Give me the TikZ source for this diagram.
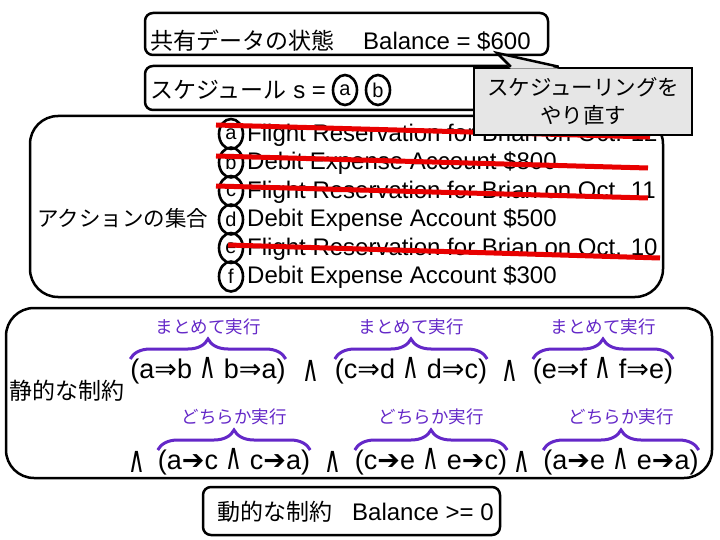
\documentclass[tikz,border=0pt]{standalone}
\usepackage{fontspec}
\setmainfont{Liberation Sans}
\newfontfamily\jp{Noto Sans CJK JP}
\newfontfamily\sym{DejaVu Sans}
\usetikzlibrary{decorations.pathreplacing,shapes.geometric}
\definecolor{cgray}{RGB}{230,230,230}
\definecolor{pur}{RGB}{100,40,200}
\definecolor{strike}{RGB}{232,0,0}
\newcommand\myimp{{\sym ⇒}}
\newcommand\myand{{\sym\scalebox{0.85}[1.35]{∧}}}
\newcommand\myarr{{\sym ➔}}
\begin{document}
\begin{tikzpicture}[x=1pt,y=-1pt,
  box/.style={draw=black,line width=2.5pt,rounded corners=8pt,inner sep=0pt},
  bigbox/.style={draw=black,line width=2.5pt,rounded corners=28pt,inner sep=0pt},
  txt/.style={inner sep=0pt,font=\fontsize{24}{27}\selectfont},
  circ/.style={draw=black,line width=2.6pt,ellipse,inner sep=0pt,minimum width=24pt,minimum height=30pt,font=\fontsize{20}{21}\selectfont},
  item/.style={inner sep=0pt,anchor=west,font=\fontsize{24}{26}\selectfont},
  grp/.style={inner sep=0pt,font=\fontsize{27}{29}\selectfont},
  lab/.style={inner sep=0pt,text=pur,font=\jp\fontsize{17.5}{19}\selectfont},
  brc/.style={draw=pur,line width=3pt,decorate,decoration={brace,amplitude=20pt}},
  redline/.style={draw=strike,line width=5pt}
]
\useasboundingbox[fill=white] (0,0) rectangle (720,540);
% --- state box
\node[box,minimum width=403pt,minimum height=42pt] (state) at (346.5,34) {};
\node[txt,anchor=west] (statetxt) at (150,41) {{\jp\fontsize{23}{26}\selectfont 共有データの状態}\hspace{29pt}Balance = \$600};
% --- schedule box
\node[box,minimum width=395pt,minimum height=44pt] (sched) at (342.5,88) {};
\node[txt,anchor=west] (schedtxt) at (150,90) {{\jp\fontsize{23}{26}\selectfont スケジュール}\ s =};
\node[circ] (sa) at (345,90) {a};
\node[circ] (sb) at (378,90) {b};
% --- action box
\node[bigbox,minimum width=633pt,minimum height=181pt] (act) at (346.5,206.5) {};
\node[inner sep=0pt,anchor=west,font=\jp\fontsize{21.5}{24}\selectfont] (actlab) at (37,218) {アクションの集合};
\node[circ] (ca) at (231,134) {a};
\node[circ] (cb) at (231,162.5) {b};
\node[circ] (cc) at (231,191) {c};
\node[circ] (cd) at (231,219.5) {d};
\node[circ] (ce) at (231,248) {e};
\node[circ] (cf) at (231,276.5) {f};
\node[item] (ta) at (247,135) {Flight Reservation for Brian on Oct. 12};
\node[item] (tb) at (247,163.5) {Debit Expense Account \$800};
\node[item] (tc) at (247,192) {Flight Reservation for Brian on Oct. 11};
\node[item] (td) at (247,220.5) {Debit Expense Account \$500};
\node[item] (te) at (247,249) {Flight Reservation for Brian on Oct. 10};
\node[item] (tf) at (247,277.5) {Debit Expense Account \$300};
% strike-through lines
\draw[redline] (216,125) -- (650,137);
\draw[redline] (216,156) -- (648,168);
\draw[redline] (216,186) -- (648,198);
\draw[redline] (228,245) -- (660,258);
% --- callout
\node[draw=black,fill=cgray,line width=2.5pt,minimum width=218pt,minimum height=67pt,inner sep=0pt,
      align=center,font=\jp\fontsize{21.5}{28}\selectfont] (call) at (583,101.5) {スケジューリングを\\やり直す};
\coordinate (tip) at (497,53);
\fill[cgray] ([xshift=38pt,yshift=-2pt]call.north west) -- (tip) -- ([xshift=86pt,yshift=-2pt]call.north west) -- cycle;
\draw[line width=2.5pt,line join=miter] ([xshift=38pt]call.north west) -- (tip) -- ([xshift=86pt]call.north west);
% --- static constraints
\node[bigbox,minimum width=706pt,minimum height=170pt] (stat) at (359,393) {};
\node[inner sep=0pt,anchor=west,font=\jp\fontsize{23}{26}\selectfont] (statlab) at (9,391) {静的な制約};
% line 1
\node[grp] (g11) at (208,371) {(a\myimp b \myand{} b\myimp a)};
\node[grp] (w11) at (311,371) {\myand};
\node[grp] (g12) at (411,371) {(c\myimp d \myand{} d\myimp c)};
\node[grp] (w12) at (510,371) {\myand};
\node[grp] (g13) at (603,371) {(e\myimp f \myand{} f\myimp e)};
\foreach \g in {g11,g12,g13}{
  \draw[brc] ([yshift=12pt]\g.west) -- ([yshift=12pt]\g.east);
  \node[lab] (l\g) at ([yshift=44pt]\g.center) {まとめて実行};
}
% line 2
\node[grp] (w20) at (137,462) {\myand};
\node[grp] (g21) at (234,462) {(a\myarr c \myand{} c\myarr a)};
\node[grp] (w21) at (333,462) {\myand};
\node[grp] (g22) at (431,462) {(c\myarr e \myand{} e\myarr c)};
\node[grp] (w22) at (522,462) {\myand};
\node[grp] (g23) at (621,462) {(a\myarr e \myand{} e\myarr a)};
\foreach \g in {g21,g22,g23}{
  \draw[brc] ([yshift=12pt]\g.west) -- ([yshift=12pt]\g.east);
  \node[lab] (l\g) at ([yshift=45pt]\g.center) {どちらか実行};
}
% --- dynamic constraint
\node[box,minimum width=297pt,minimum height=48pt] (dyn) at (351.5,511) {};
\node[txt,anchor=west] (dyntxt) at (217,512) {{\jp\fontsize{23}{26}\selectfont 動的な制約}\hspace{20pt}Balance >= 0};
\end{tikzpicture}
\end{document}
